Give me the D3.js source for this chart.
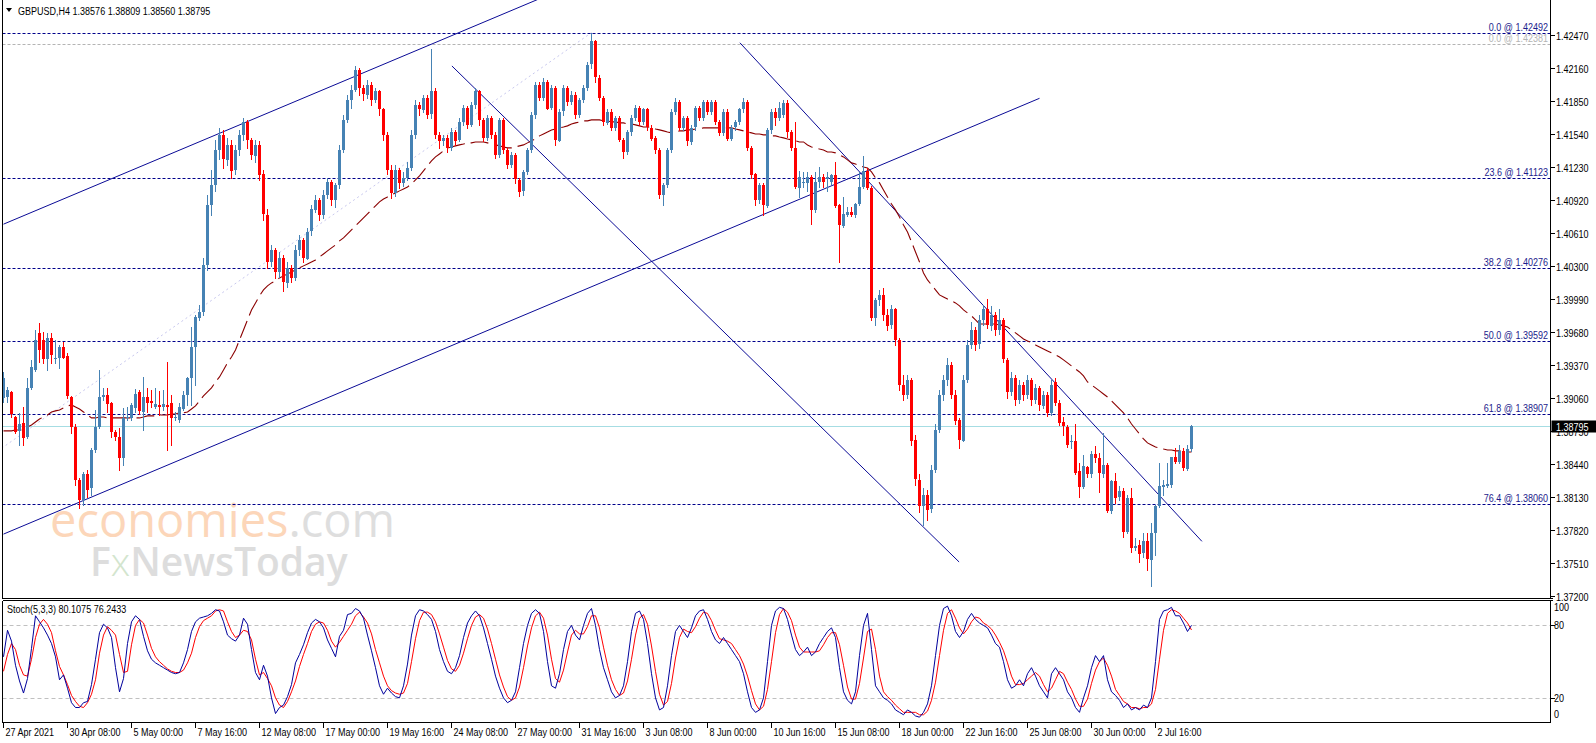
<!DOCTYPE html>
<html><head><meta charset="utf-8">
<script src="https://cdn.jsdelivr.net/npm/d3@7"></script>
<style>
html,body{margin:0;padding:0;background:#fff;overflow:hidden;}
svg{display:block;}
.ax{font-family:"Liberation Sans",Arial,sans-serif;font-size:11px;}
</style></head><body>
<svg id="c" width="1596" height="743"></svg>
<script>
// ---------------- DATA ----------------
const symbolText = "GBPUSD,H4  1.38576 1.38809 1.38560 1.38795";
const stochText = "Stoch(5,3,3) 80.1075 76.2433";
const currentPrice = 1.38795;
const priceTicks = [1.42470,1.42160,1.41850,1.41540,1.41230,1.40920,1.40610,1.40300,1.39990,1.39680,1.39370,1.39060,1.38750,1.38440,1.38130,1.37820,1.37510,1.37200];
const stochTicks = [100,80,20,0];
const stochLevels = [80,20];
const timeLabels = ["27 Apr 2021","30 Apr 08:00","5 May 00:00","7 May 16:00","12 May 08:00","17 May 00:00","19 May 16:00","24 May 08:00","27 May 00:00","31 May 16:00","3 Jun 08:00","8 Jun 00:00","10 Jun 16:00","15 Jun 08:00","18 Jun 00:00","22 Jun 16:00","25 Jun 08:00","30 Jun 00:00","2 Jul 16:00"];
const timeLabelBars = [0,16,32,48,64,80,96,112,128,144,160,176,192,208,224,240,256,272,288];
const fibLevels = [
 {label:"0.0 @ 1.42492", value:1.42492, grey:false},
 {label:"0.0 @ 1.42381", value:1.42381, grey:true},
 {label:"23.6 @ 1.41123", value:1.41123, grey:false},
 {label:"38.2 @ 1.40276", value:1.40276, grey:false},
 {label:"50.0 @ 1.39592", value:1.39592, grey:false},
 {label:"61.8 @ 1.38907", value:1.38907, grey:false},
 {label:"76.4 @ 1.38060", value:1.38060, grey:false}
];
// trendlines as [bar, price] anchors
const trendLines = [
 [[0,1.40692],[140,1.42906]],
 [[0,1.37779],[259,1.41875]],
 [[112.1,1.42179],[238.9,1.37517]],
 [[184.1,1.42397],[299.6,1.37711]]
];
const fibDiagonal = [[-72,1.36691],[147,1.42492]];

const opens = [1.3906,1.3906,1.3911,1.3888,1.3874,1.3882,1.3869,1.3915,1.3932,1.3967,1.3960,1.3942,1.3962,1.3942,1.3944,1.3954,1.3945,1.3907,1.3879,1.3829,1.3810,1.3834,1.3821,1.3857,1.3879,1.3907,1.3909,1.3901,1.3874,1.3869,1.3849,1.3887,1.3887,1.3897,1.3911,1.3893,1.3907,1.3903,1.3897,1.3899,1.3897,1.3899,1.3901,1.3887,1.3885,1.3896,1.3909,1.3925,1.3954,1.3981,
1.3987,1.4031,1.4087,1.4106,1.4139,1.4153,1.4130,1.4144,1.4120,1.4139,1.4153,1.4165,1.4148,1.4134,1.4144,1.4116,1.4078,1.4034,1.4045,1.4024,1.4037,1.4014,1.4028,1.4019,1.4045,1.4054,1.4037,1.4062,1.4083,1.4092,1.4078,1.4097,1.4109,1.4092,1.4106,1.4139,1.4167,1.4186,1.4195,1.4214,1.4197,1.4191,1.4200,1.4186,1.4194,1.4177,1.4153,1.4120,1.4098,1.4120,
1.4108,1.4113,1.4122,1.4153,1.4181,1.4177,1.4188,1.4172,1.4194,1.4153,1.4147,1.4150,1.4141,1.4156,1.4148,1.4165,1.4178,1.4162,1.4181,1.4194,1.4167,1.4150,1.4169,1.4153,1.4134,1.4167,1.4139,1.4125,1.4134,1.4111,1.4100,1.4118,1.4139,1.4172,1.4200,1.4188,1.4203,1.4178,1.4197,1.4148,1.4175,1.4197,1.4184,1.4191,1.4172,1.4186,1.4197,1.4219,1.4241,1.4207,
1.4188,1.4165,1.4175,1.4160,1.4169,1.4148,1.4137,1.4156,1.4169,1.4178,1.4165,1.4177,1.4160,1.4150,1.4139,1.4097,1.4106,1.4139,1.4175,1.4184,1.4160,1.4169,1.4147,1.4160,1.4178,1.4169,1.4184,1.4175,1.4184,1.4165,1.4155,1.4175,1.4150,1.4160,1.4165,1.4177,1.4184,1.4141,1.4116,1.4092,1.4106,1.4087,1.4158,1.4175,1.4169,1.4172,1.4183,1.4156,1.4141,1.4104,
1.4108,1.4108,1.4114,1.4083,1.4109,1.4114,1.4112,1.4108,1.4115,1.4087,1.4068,1.4078,1.4081,1.4078,1.4088,1.4104,1.4119,1.4103,1.3981,1.3998,1.4003,1.3984,1.3974,1.3989,1.3960,1.3918,1.3909,1.3923,1.3866,1.3829,1.3805,1.3815,1.3801,1.3838,1.3876,1.3909,1.3923,1.3937,1.3909,1.3885,1.3866,1.3923,1.3956,1.3970,1.3956,1.3979,1.3989,1.3974,1.3984,1.3970,
1.3979,1.3942,1.3912,1.3925,1.3904,1.3918,1.3909,1.3923,1.3904,1.3915,1.3899,1.3909,1.3892,1.3921,1.3901,1.3883,1.3879,1.3864,1.3865,1.3837,1.3822,1.3841,1.3834,1.3853,1.3849,1.3835,1.3843,1.3800,1.3828,1.3812,1.3818,1.3780,1.3812,1.3765,1.3768,1.3760,1.3771,1.3754,1.3779,1.3804,1.3822,1.3823,1.3824,1.3850,1.3846,1.3856,1.3839,1.38576];
const highs = [1.3930,1.3916,1.3912,1.3889,1.3892,1.3897,1.3925,1.3942,1.3970,1.3976,1.3968,1.3967,1.3967,1.3960,1.3956,1.3958,1.3948,1.3908,1.3881,1.3831,1.3836,1.3838,1.3859,1.3895,1.3932,1.3915,1.3915,1.3902,1.3876,1.3878,1.3896,1.3897,1.3901,1.3914,1.3913,1.3926,1.3915,1.3913,1.3915,1.3912,1.3913,1.3940,1.3909,1.3893,1.3901,1.3912,1.3926,1.3973,1.3984,1.3993,
1.4037,1.4097,1.4120,1.4148,1.4160,1.4158,1.4150,1.4148,1.4144,1.4158,1.4169,1.4167,1.4150,1.4148,1.4147,1.4120,1.4083,1.4050,1.4047,1.4043,1.4040,1.4034,1.4031,1.4050,1.4059,1.4056,1.4066,1.4087,1.4097,1.4094,1.4101,1.4113,1.4111,1.4108,1.4144,1.4172,1.4191,1.4200,1.4218,1.4216,1.4200,1.4205,1.4203,1.4197,1.4195,1.4178,1.4156,1.4125,1.4125,1.4122,
1.4118,1.4128,1.4158,1.4186,1.4184,1.4191,1.4191,1.4234,1.4197,1.4156,1.4153,1.4153,1.4160,1.4158,1.4169,1.4181,1.4180,1.4184,1.4197,1.4195,1.4169,1.4172,1.4171,1.4156,1.4169,1.4169,1.4141,1.4137,1.4136,1.4113,1.4120,1.4141,1.4175,1.4203,1.4203,1.4207,1.4205,1.4200,1.4199,1.4177,1.4200,1.4199,1.4194,1.4193,1.4188,1.4200,1.4222,1.4249,1.4242,1.4209,
1.4190,1.4177,1.4177,1.4171,1.4171,1.4150,1.4158,1.4172,1.4181,1.4180,1.4178,1.4178,1.4162,1.4152,1.4141,1.4108,1.4141,1.4177,1.4188,1.4186,1.4171,1.4171,1.4162,1.4180,1.4180,1.4186,1.4186,1.4186,1.4186,1.4167,1.4177,1.4177,1.4162,1.4167,1.4178,1.4188,1.4186,1.4143,1.4117,1.4108,1.4108,1.4160,1.4177,1.4178,1.4184,1.4186,1.4186,1.4158,1.4165,1.4119,
1.4118,1.4118,1.4115,1.4118,1.4123,1.4116,1.4118,1.4116,1.4128,1.4088,1.4095,1.4085,1.4085,1.4089,1.4118,1.4133,1.4122,1.4105,1.4000,1.4007,1.4009,1.3989,1.3993,1.3990,1.3962,1.3927,1.3927,1.3925,1.3871,1.3834,1.3821,1.3819,1.3843,1.3881,1.3913,1.3927,1.3943,1.3940,1.3913,1.3887,1.3927,1.3960,1.3977,1.3973,1.3984,1.3993,1.3999,1.3992,1.3987,1.3989,
1.3981,1.3943,1.3930,1.3927,1.3923,1.3921,1.3927,1.3925,1.3919,1.3917,1.3912,1.3911,1.3923,1.3925,1.3904,1.3888,1.3880,1.3871,1.3881,1.3845,1.3852,1.3842,1.3856,1.3861,1.3854,1.3873,1.3845,1.3829,1.3835,1.3823,1.3821,1.3815,1.3821,1.3774,1.3772,1.3779,1.3779,1.3788,1.3805,1.3845,1.3829,1.3845,1.3850,1.3859,1.3862,1.3859,1.3862,1.38809];
const lows = [1.3902,1.3902,1.3888,1.3873,1.3862,1.3862,1.3868,1.3914,1.3931,1.3940,1.3939,1.3932,1.3939,1.3939,1.3934,1.3943,1.3906,1.3873,1.3824,1.3802,1.3805,1.3813,1.3815,1.3855,1.3878,1.3904,1.3893,1.3869,1.3866,1.3838,1.3843,1.3885,1.3885,1.3893,1.3891,1.3876,1.3893,1.3897,1.3896,1.3890,1.3895,1.3857,1.3862,1.3885,1.3883,1.3895,1.3899,1.3899,1.3918,1.3979,
1.3984,1.4026,1.4078,1.4100,1.4130,1.4122,1.4125,1.4113,1.4116,1.4134,1.4148,1.4141,1.4130,1.4128,1.4111,1.4073,1.4028,1.4030,1.4019,1.4020,1.4006,1.4010,1.4015,1.4017,1.4040,1.4034,1.4036,1.4059,1.4081,1.4073,1.4075,1.4094,1.4087,1.4085,1.4103,1.4137,1.4165,1.4178,1.4194,1.4191,1.4186,1.4188,1.4181,1.4184,1.4172,1.4148,1.4116,1.4094,1.4096,1.4103,
1.4105,1.4111,1.4120,1.4150,1.4172,1.4175,1.4169,1.4169,1.4150,1.4141,1.4144,1.4137,1.4139,1.4144,1.4147,1.4162,1.4160,1.4161,1.4178,1.4162,1.4147,1.4148,1.4150,1.4131,1.4132,1.4136,1.4122,1.4123,1.4108,1.4096,1.4097,1.4116,1.4137,1.4169,1.4186,1.4186,1.4177,1.4177,1.4144,1.4147,1.4172,1.4181,1.4182,1.4169,1.4170,1.4184,1.4195,1.4216,1.4203,1.4186,
1.4162,1.4163,1.4158,1.4158,1.4147,1.4131,1.4135,1.4153,1.4167,1.4162,1.4163,1.4158,1.4148,1.4136,1.4094,1.4087,1.4104,1.4137,1.4173,1.4158,1.4158,1.4144,1.4145,1.4158,1.4167,1.4167,1.4173,1.4173,1.4163,1.4153,1.4153,1.4148,1.4148,1.4158,1.4163,1.4175,1.4139,1.4113,1.4087,1.4089,1.4078,1.4085,1.4155,1.4162,1.4167,1.4170,1.4151,1.4139,1.4103,1.4095,
1.4104,1.4100,1.4069,1.4081,1.4104,1.4104,1.4100,1.4107,1.4085,1.4034,1.4067,1.4077,1.4077,1.4076,1.4087,1.4103,1.4102,1.3979,1.3974,1.3993,1.3979,1.3970,1.3972,1.3956,1.3913,1.3904,1.3906,1.3862,1.3824,1.3799,1.3786,1.3791,1.3799,1.3836,1.3874,1.3904,1.3918,1.3906,1.3881,1.3859,1.3865,1.3921,1.3953,1.3951,1.3953,1.3974,1.3972,1.3970,1.3965,1.3966,
1.3940,1.3906,1.3909,1.3899,1.3901,1.3904,1.3906,1.3899,1.3901,1.3895,1.3896,1.3889,1.3890,1.3899,1.3880,1.3871,1.3860,1.3859,1.3834,1.3813,1.3821,1.3832,1.3832,1.3846,1.3817,1.3832,1.3799,1.3798,1.3807,1.3810,1.3775,1.3779,1.3761,1.3763,1.3752,1.3756,1.3744,1.3729,1.3758,1.3803,1.3815,1.3822,1.3822,1.3845,1.3845,1.3838,1.3838,1.38560];
const closes = [1.3925,1.3913,1.3890,1.3874,1.3881,1.3868,1.3915,1.3935,1.3960,1.3951,1.3942,1.3962,1.3946,1.3943,1.3954,1.3944,1.3907,1.3879,1.3829,1.3810,1.3834,1.3819,1.3857,1.3879,1.3907,1.3909,1.3901,1.3874,1.3869,1.3849,1.3887,1.3888,1.3899,1.3910,1.3893,1.3907,1.3901,1.3901,1.3900,1.3897,1.3900,1.3897,1.3887,1.3888,1.3897,1.3909,1.3925,1.3954,1.3982,1.3987,
1.4031,1.4087,1.4106,1.4139,1.4153,1.4130,1.4144,1.4120,1.4139,1.4153,1.4165,1.4148,1.4134,1.4144,1.4116,1.4078,1.4034,1.4045,1.4024,1.4037,1.4014,1.4028,1.4019,1.4045,1.4054,1.4037,1.4062,1.4083,1.4092,1.4078,1.4097,1.4109,1.4092,1.4106,1.4139,1.4167,1.4186,1.4195,1.4214,1.4197,1.4191,1.4200,1.4186,1.4194,1.4177,1.4153,1.4120,1.4098,1.4120,1.4108,
1.4113,1.4122,1.4153,1.4181,1.4177,1.4188,1.4172,1.4194,1.4153,1.4147,1.4150,1.4141,1.4156,1.4148,1.4165,1.4178,1.4162,1.4181,1.4194,1.4167,1.4150,1.4169,1.4153,1.4134,1.4167,1.4139,1.4125,1.4134,1.4111,1.4100,1.4118,1.4139,1.4172,1.4200,1.4188,1.4203,1.4178,1.4197,1.4148,1.4175,1.4197,1.4184,1.4191,1.4172,1.4186,1.4197,1.4219,1.4241,1.4207,1.4188,
1.4165,1.4175,1.4160,1.4169,1.4148,1.4137,1.4156,1.4169,1.4178,1.4165,1.4177,1.4160,1.4150,1.4139,1.4097,1.4106,1.4139,1.4175,1.4184,1.4160,1.4169,1.4147,1.4160,1.4178,1.4169,1.4184,1.4175,1.4184,1.4165,1.4155,1.4175,1.4150,1.4160,1.4165,1.4177,1.4184,1.4141,1.4116,1.4092,1.4106,1.4087,1.4158,1.4175,1.4169,1.4178,1.4183,1.4156,1.4141,1.4104,1.4114,
1.4109,1.4114,1.4083,1.4109,1.4114,1.4109,1.4114,1.4115,1.4086,1.4068,1.4079,1.4081,1.4078,1.4088,1.4104,1.4119,1.4103,1.3981,1.3998,1.4003,1.3984,1.3974,1.3989,1.3960,1.3918,1.3909,1.3923,1.3866,1.3829,1.3805,1.3815,1.3801,1.3838,1.3876,1.3909,1.3923,1.3937,1.3909,1.3885,1.3866,1.3923,1.3956,1.3970,1.3956,1.3979,1.3989,1.3974,1.3984,1.3970,1.3979,
1.3942,1.3912,1.3925,1.3904,1.3918,1.3909,1.3923,1.3904,1.3915,1.3899,1.3909,1.3892,1.3918,1.3901,1.3882,1.3879,1.3862,1.3865,1.3835,1.3822,1.3842,1.3834,1.3853,1.3849,1.3835,1.3843,1.3800,1.3828,1.3812,1.3818,1.3779,1.3812,1.3765,1.3767,1.3760,1.3771,1.3754,1.3779,1.3804,1.3823,1.3824,1.3825,1.3850,1.3845,1.3856,1.3840,1.3858,1.38795];
const maValues = [1.38749,1.38749,1.38749,1.38758,1.38758,1.38758,1.38786,1.38805,1.38833,1.38861,1.38880,1.38899,1.38927,1.38937,1.38946,1.38965,1.38984,1.38993,1.38974,1.38955,1.38927,1.38899,1.38871,1.38871,1.38880,1.38880,1.38871,1.38871,1.38871,1.38871,1.38871,1.38871,1.38871,1.38871,1.38871,1.38880,1.38890,1.38890,1.38890,1.38899,1.38899,1.38899,1.38908,1.38908,1.38918,1.38918,1.38927,1.38955,1.38984,1.39031,
1.39078,1.39115,1.39153,1.39209,1.39256,1.39322,1.39388,1.39444,1.39510,1.39604,1.39698,1.39792,1.39886,1.39952,1.40018,1.40074,1.40112,1.40140,1.40159,1.40187,1.40206,1.40224,1.40243,1.40262,1.40281,1.40300,1.40318,1.40337,1.40356,1.40384,1.40412,1.40441,1.40469,1.40497,1.40535,1.40563,1.40600,1.40638,1.40676,1.40713,1.40751,1.40788,1.40826,1.40864,1.40901,1.40929,1.40948,1.40967,1.40986,1.41005,
1.41023,1.41042,1.41070,1.41108,1.41146,1.41193,1.41240,1.41287,1.41324,1.41352,1.41381,1.41409,1.41418,1.41428,1.41437,1.41446,1.41456,1.41456,1.41465,1.41465,1.41465,1.41456,1.41446,1.41437,1.41428,1.41418,1.41409,1.41409,1.41418,1.41428,1.41437,1.41456,1.41475,1.41493,1.41522,1.41540,1.41559,1.41578,1.41587,1.41597,1.41606,1.41616,1.41634,1.41644,1.41653,1.41663,1.41663,1.41672,1.41672,1.41672,
1.41663,1.41663,1.41653,1.41653,1.41644,1.41644,1.41634,1.41634,1.41625,1.41616,1.41606,1.41606,1.41597,1.41587,1.41578,1.41569,1.41559,1.41550,1.41559,1.41569,1.41569,1.41578,1.41578,1.41587,1.41587,1.41597,1.41597,1.41597,1.41597,1.41597,1.41597,1.41597,1.41597,1.41587,1.41578,1.41569,1.41559,1.41550,1.41540,1.41540,1.41531,1.41531,1.41522,1.41522,1.41512,1.41503,1.41493,1.41484,1.41475,1.41465,
1.41465,1.41437,1.41418,1.41409,1.41399,1.41390,1.41371,1.41371,1.41362,1.41343,1.41324,1.41296,1.41268,1.41258,1.41240,1.41230,1.41221,1.41183,1.41127,1.41080,1.41014,1.40948,1.40882,1.40826,1.40760,1.40685,1.40619,1.40525,1.40431,1.40337,1.40234,1.40168,1.40121,1.40074,1.40027,1.40008,1.39989,1.39971,1.39952,1.39924,1.39886,1.39858,1.39830,1.39792,1.39754,1.39754,1.39754,1.39754,1.39754,1.39745,
1.39736,1.39726,1.39698,1.39670,1.39642,1.39613,1.39595,1.39576,1.39557,1.39538,1.39519,1.39501,1.39482,1.39463,1.39444,1.39416,1.39388,1.39360,1.39331,1.39303,1.39266,1.39209,1.39181,1.39153,1.39125,1.39096,1.39068,1.39031,1.38993,1.38955,1.38918,1.38871,1.38814,1.38767,1.38720,1.38673,1.38636,1.38617,1.38598,1.38589,1.38579,1.38570,1.38570,1.38561,1.38561,1.38551,1.38551,1.38551];
const stochK = [54,76,67,47,34,24,36,61,88,83,78,72,65,54,35,39,28,16,12,12,16,17,31,52,74,81,78,70,45,25,36,65,83,88,85,71,59,52,49,47,45,43,41,40,41,49,60,75,83,86,
87,88,90,93,92,83,72,69,67,72,86,81,60,41,35,47,38,20,7,12,14,21,31,49,56,64,74,82,85,83,78,68,61,54,71,76,89,90,94,92,86,72,59,45,30,23,28,24,21,20,
30,48,72,88,93,92,89,85,75,60,50,42,40,45,55,70,82,88,92,88,78,65,52,38,28,20,16,18,25,45,65,80,90,93,90,75,50,30,28,40,60,75,80,72,68,80,90,94,80,60,
45,35,25,20,22,30,50,75,90,92,85,65,40,20,10,12,30,55,75,80,75,70,78,88,92,93,85,75,68,65,70,65,60,55,50,40,25,12,8,10,20,50,80,92,95,94,85,72,60,55,
58,62,55,58,65,70,75,78,70,45,25,18,15,25,55,80,90,60,30,25,20,18,15,10,8,6,10,8,5,4,8,15,30,55,80,94,96,88,75,70,75,85,90,85,82,80,78,72,65,62,
50,35,28,30,35,30,40,45,38,30,25,20,40,45,40,35,25,20,12,8,20,30,45,55,50,55,35,25,22,18,12,15,10,12,10,14,12,20,50,85,92,93,95,88,88,82,75,80.1075];
const stochD = [42,56,65,60,47,39,38,52,70,81,85,81,74,59,46,39,31,22,17,13,12,16,23,35,57,72,79,76,72,56,41,42,64,80,85,82,72,61,54,50,47,44,42,41,41,43,49,57,70,79,
84,86,88,92,93,92,83,75,70,72,76,75,68,52,39,41,36,30,20,14,12,17,25,34,46,56,65,75,81,83,82,76,67,62,66,71,76,81,88,91,87,82,73,60,49,38,30,26,24,23,
24,32,50,69,84,91,91,89,83,73,62,51,44,42,47,57,69,80,87,89,86,77,65,52,39,29,21,18,20,29,45,63,78,88,91,86,72,52,36,33,43,58,72,76,73,73,79,88,88,78,
62,47,35,27,22,24,34,52,72,86,89,81,63,42,23,14,17,32,53,70,77,75,74,79,86,91,90,84,76,69,68,67,65,60,55,48,38,26,15,10,13,27,50,74,89,94,91,84,72,62,
58,58,58,58,59,64,70,74,74,64,47,29,19,19,32,53,75,77,60,38,25,21,18,14,11,8,8,8,8,6,6,9,18,33,55,76,90,93,86,78,73,77,83,87,86,82,80,77,72,66,
59,49,38,31,31,32,35,38,41,38,31,25,28,35,42,40,33,27,19,13,13,19,32,43,50,53,47,38,27,22,17,15,12,12,11,12,12,15,27,52,76,90,93,92,90,86,82,76.2433];

// ---------------- DRAW ----------------
const svg = d3.select("#c");
const L = 2.5, R = 1550.5, MB = 598.5, ST = 600.5, SB = 722.5;
const nBars = closes.length;
const x = d3.scaleLinear().domain([0, 297]).range([3.5, 1191.5]);
const y = d3.scaleLinear().domain([1.372, 1.4247]).range([595.7, 35]);
const ys = d3.scaleLinear().domain([0, 100]).range([722, 601.3]);
const SX = 0.82; // narrow terminal-style font

function label(parent, tx, ty, str, fill, anchor){
  return parent.append("text").attr("class","ax")
    .attr("transform", `translate(${tx},${ty}) scale(${SX},1)`)
    .attr("text-anchor", anchor || "start").attr("fill", fill || "#000").text(str);
}

const defs = svg.append("defs");
defs.append("clipPath").attr("id","cm").append("rect").attr("x",L+0.5).attr("y",0).attr("width",R-L-1).attr("height",MB-0.5);
defs.append("clipPath").attr("id","cs").append("rect").attr("x",L+0.5).attr("y",ST+0.5).attr("width",R-L-1).attr("height",SB-ST-1);

const main = svg.append("g").attr("clip-path","url(#cm)");
const sub = svg.append("g").attr("clip-path","url(#cs)");

// watermark
const wm = main.append("g");
const t1 = wm.append("text").attr("x",50).attr("y",537).style("font-family","'Open Sans',Lato,sans-serif").style("font-size","47px").style("font-weight","400");
t1.append("tspan").attr("fill","#fcd6b9").text("economies");
t1.append("tspan").attr("fill","#dedede").text(".com");
const t2 = wm.append("text").attr("x",90).attr("y",576).style("font-family","'Open Sans',Lato,sans-serif").style("font-size","39px").style("font-weight","600").attr("fill","#dddddd");
t2.append("tspan").text("F");
t2.append("tspan").attr("fill","#d3e5ce").style("font-weight","300").text("x");
t2.append("tspan").text("NewsToday");

// fib diagonal (dotted)
main.append("path").attr("d", d3.line().x(d=>x(d[0])).y(d=>y(d[1]))(fibDiagonal))
  .attr("stroke","#c8c8ee").attr("stroke-width",1).attr("stroke-dasharray","2,3").attr("fill","none");

// fib horizontal levels
fibLevels.forEach(f => {
  const yy = Math.round(y(f.value)) + 0.5;
  main.append("line").attr("x1",L).attr("x2",R).attr("y1",yy).attr("y2",yy)
    .attr("stroke", f.grey ? "#b4b4b4" : "#00008b").attr("stroke-width",1).attr("stroke-dasharray","3,2");
});

// current price line
{
  const yy = Math.round(y(currentPrice)) + 0.5;
  main.append("line").attr("x1",L).attr("x2",R).attr("y1",yy).attr("y2",yy).attr("stroke","#a6dde3").attr("stroke-width",1);
}

// trendlines
trendLines.forEach(t => {
  main.append("path").attr("d", d3.line().x(d=>x(d[0])).y(d=>y(d[1]))(t))
    .attr("stroke","#0a0a96").attr("stroke-width",1).attr("fill","none");
});

// moving average
main.append("path").datum(maValues)
  .attr("d", d3.line().x((d,i)=>x(i)).y(d=>y(d)))
  .attr("stroke","#8b0000").attr("stroke-width",1.1).attr("fill","none").attr("stroke-dasharray","18,6");

// candles
const bars = d3.range(nBars).map(i => ({i, o:opens[i], h:highs[i], l:lows[i], c:closes[i]}));
const cg = main.append("g").attr("shape-rendering","crispEdges");
cg.selectAll("line.w").data(bars).join("line")
  .attr("x1", d=>x(d.i)).attr("x2", d=>x(d.i))
  .attr("y1", d=>Math.round(y(d.h))).attr("y2", d=>Math.round(y(d.l))+1)
  .attr("stroke", d=> d.c >= d.o ? "#4682b4" : "#ff0000").attr("stroke-width",1);
cg.selectAll("rect.b").data(bars).join("rect")
  .attr("x", d=>x(d.i)-1.5).attr("width",3)
  .attr("y", d=>Math.round(Math.min(y(d.o),y(d.c))))
  .attr("height", d=>Math.max(1, Math.round(Math.abs(y(d.o)-y(d.c)))))
  .attr("fill", d=> d.c >= d.o ? "#4682b4" : "#ff0000");

// fib labels
fibLevels.forEach(f => {
  const yy = Math.round(y(f.value));
  label(svg, 1548, yy-2.5, f.label, f.grey ? "#b4b4b4" : "#1c1c8c", "end");
});

// header
svg.append("path").attr("d","M6,8 L12,8 L9,12 Z").attr("fill","#000");
label(svg, 18, 15, symbolText);

// stochastic
stochLevels.forEach(v => {
  const yy = Math.round(ys(v)) + 0.5;
  sub.append("line").attr("x1",L).attr("x2",R).attr("y1",yy).attr("y2",yy).attr("stroke","#c0c0c0").attr("stroke-dasharray","4,3");
});
sub.append("path").datum(stochD).attr("d", d3.line().x((d,i)=>x(i)).y(d=>ys(d)))
  .attr("stroke","#ff0000").attr("stroke-width",1).attr("fill","none");
sub.append("path").datum(stochK).attr("d", d3.line().x((d,i)=>x(i)).y(d=>ys(d)))
  .attr("stroke","#00009c").attr("stroke-width",1).attr("fill","none");
label(svg, 7, 613, stochText);

// frames
const fr = svg.append("g").attr("stroke","#000").attr("stroke-width",1).attr("shape-rendering","crispEdges").attr("fill","none");
fr.append("line").attr("x1",L).attr("x2",L).attr("y1",0).attr("y2",MB);
fr.append("line").attr("x1",R).attr("x2",R).attr("y1",0).attr("y2",MB);
fr.append("line").attr("x1",L).attr("x2",R+2).attr("y1",MB).attr("y2",MB);
fr.append("line").attr("x1",L).attr("x2",R+2).attr("y1",ST).attr("y2",ST);
fr.append("line").attr("x1",L).attr("x2",L).attr("y1",ST).attr("y2",SB);
fr.append("line").attr("x1",R).attr("x2",R).attr("y1",ST).attr("y2",SB);
fr.append("line").attr("x1",L).attr("x2",R).attr("y1",SB).attr("y2",SB);

// price axis
priceTicks.forEach(p => {
  const yy = Math.round(y(p)) + 0.5;
  fr.append("line").attr("x1",R).attr("x2",R+4).attr("y1",yy).attr("y2",yy);
  label(svg, 1556, yy+4, p.toFixed(5));
});
// current price box
{
  const yy = Math.round(y(currentPrice));
  svg.append("rect").attr("x",R+1).attr("y",yy-5.5).attr("width",1596-R).attr("height",12).attr("fill","#000");
  label(svg, 1556, yy+4.5, currentPrice.toFixed(5), "#fff");
}
// stoch axis
const stochLabelY = {100:611, 80:629, 20:701.5, 0:718};
stochTicks.forEach(v => {
  const yy = Math.round(ys(v)) + 0.5;
  if (v===80 || v===20) fr.append("line").attr("x1",R).attr("x2",R+4).attr("y1",yy).attr("y2",yy);
  label(svg, 1554, stochLabelY[v], String(v));
});
// time axis
timeLabels.forEach((t,k) => {
  const xx = x(timeLabelBars[k]);
  fr.append("line").attr("x1",xx).attr("x2",xx).attr("y1",SB).attr("y2",SB+5);
  label(svg, xx+2, 736, t);
});
</script>
</body></html>
